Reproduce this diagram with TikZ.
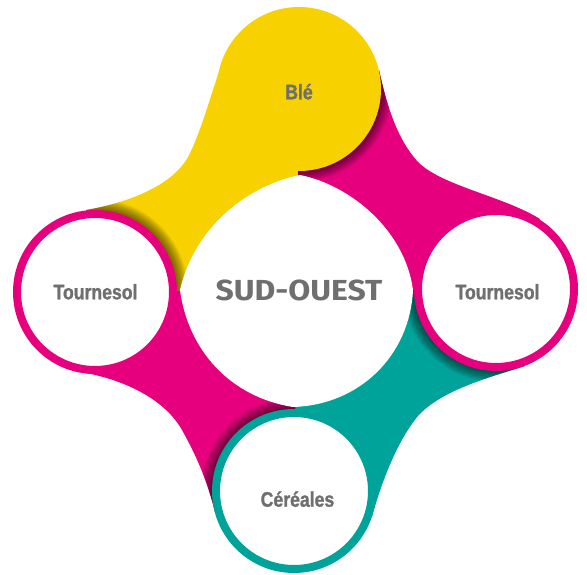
\documentclass[tikz,border=0pt]{standalone}
\usepackage{fontspec}
\newfontfamily\condfont[FakeStretch=0.84, BoldFont={Liberation Sans Bold}, BoldFeatures={FakeBold=1.3}]{Liberation Sans}
\newfontfamily\titlefont[FakeStretch=1.1]{Fira Sans}
\definecolor{jaune}{HTML}{F7D100}
\definecolor{rose}{HTML}{E6007E}
\definecolor{vert}{HTML}{00A39A}
\definecolor{gris}{HTML}{6F6F6F}
\begin{document}
\begin{tikzpicture}[x=1pt,y=-1pt,
  lbl/.style={font=\condfont\bfseries\fontsize{21}{21}\selectfont, text=gris, inner sep=0pt, anchor=base},
  ttl/.style={font=\titlefont\bfseries\fontsize{29}{29}\selectfont, text=gris, inner sep=0pt, anchor=base},
  ring/.style={circle, minimum size=156pt, line width=8pt, fill=white, inner sep=0pt},
  disc/.style={circle, minimum size=164pt, inner sep=0pt},
  shade/.style={black, opacity=0.042},
]
\useasboundingbox (0,0) rectangle (587,575);
\coordinate (O) at (297,290);
\coordinate (cT) at (299,89);
\coordinate (cL) at (95,292);
\coordinate (cR) at (496,289);
\coordinate (cB) at (294,491);
\def\bandTL{(223,60) .. controls (211,94) and (200,135) .. (188,157) .. controls (172,186) and (127,203) .. (86,210) -- (cL) -- (O) -- (cT) -- cycle}
\def\bandTR{(379,70) .. controls (388,110) and (398,140) .. (418,162) .. controls (442,186) and (503,196) .. (540,219) -- (cR) -- (O) -- (cT) -- cycle}
\def\bandRB{(525,366) .. controls (480,380) and (440,392) .. (418,416) .. controls (398,440) and (382,480) .. (372,517) -- (cB) -- (O) -- (cR) -- cycle}
\def\bandBL{(86,373) .. controls (127,381) and (165,400) .. (182,430) .. controls (196,455) and (207,480) .. (215,512) -- (cB) -- (O) -- (cL) -- cycle}
% bands
\fill[jaune] \bandTL;
\fill[rose] \bandTR;
\fill[vert] \bandRB;
\fill[rose] \bandBL;
% shadows of the circles on the bands passing under them
\begin{scope}
  \clip \bandTL;
  \foreach \k in {1,...,14} \fill[shade] (cL) circle[radius={82pt+\k*0.8pt}];
\end{scope}
\begin{scope}
  \clip \bandTR;
  \foreach \k in {1,...,14} \fill[shade] (cT) circle[radius={82pt+\k*0.8pt}];
\end{scope}
\begin{scope}
  \clip \bandRB;
  \foreach \k in {1,...,14} \fill[shade] (cR) circle[radius={82pt+\k*0.8pt}];
\end{scope}
\begin{scope}
  \clip \bandBL;
  \foreach \k in {1,...,14} \fill[shade] (cB) circle[radius={82pt+\k*0.8pt}];
\end{scope}
% central white blob
\fill[white] (300,175) .. controls (250,185) and (195,225) .. (180,290)
  .. controls (188,350) and (230,397) .. (293,407)
  .. controls (360,405) and (410,355) .. (413,290)
  .. controls (405,230) and (350,185) .. (300,175) -- cycle;
% circles
\node[disc, fill=jaune] (top) at (cT) {};
\node[ring, draw=rose] (left) at (cL) {};
\node[ring, draw=rose] (right) at (cR) {};
\node[ring, draw=vert] (bottom) at (cB) {};
% texts
\node[lbl] (tBle) at (299,99.3) {Blé};
\node[lbl] (tTL) at (95.5,299.3) {Tournesol};
\node[lbl] (tTR) at (497.5,299.3) {Tournesol};
\node[lbl] (tCer) at (297.5,506.7) {Céréales};
\node[ttl] (tSO) at (299,300.7) {SUD-OUEST};
\end{tikzpicture}
\end{document}
